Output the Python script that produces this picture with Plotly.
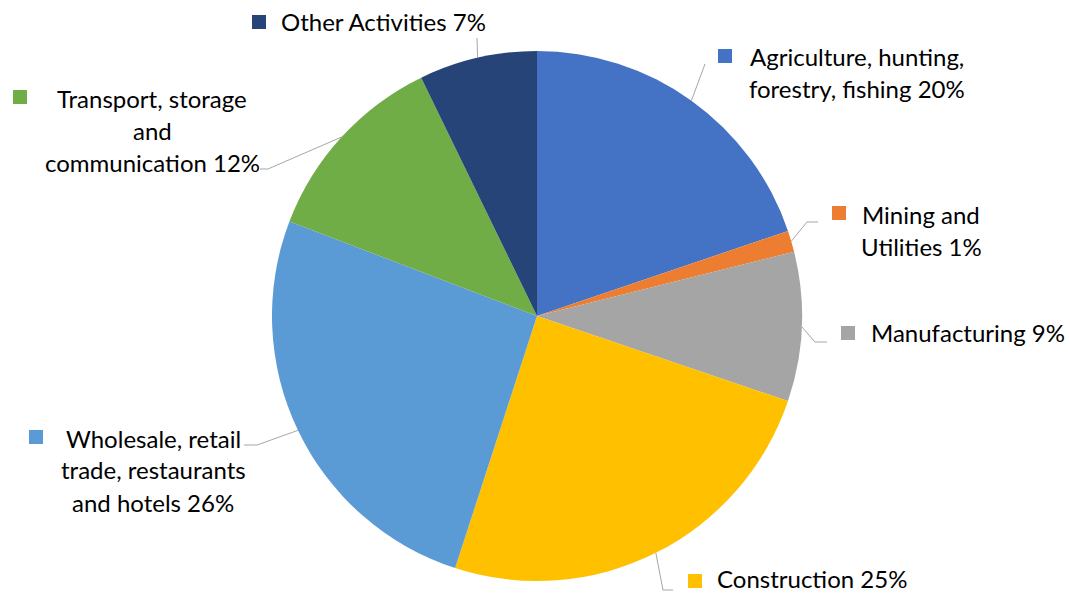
import math
import plotly.graph_objects as go

# ---- data ----
categories = [
    "Agriculture, hunting, forestry, fishing",
    "Mining and Utilities",
    "Manufacturing",
    "Construction",
    "Wholesale, retail trade, restaurants and hotels",
    "Transport, storage and communication",
    "Other Activities",
]
values = [19.8, 1.3, 9.1, 24.8, 25.8, 12.0, 7.2]
label_lines = [
    ["Agriculture, hunting,", "forestry, fishing"],
    ["Mining and", "Utilities"],
    ["Manufacturing"],
    ["Construction"],
    ["Wholesale, retail", "trade, restaurants", "and hotels"],
    ["Transport, storage", "and", "communication"],
    ["Other Activities"],
]
colors = ["#4472C4", "#ED7D31", "#A5A5A5", "#FFC000", "#5B9BD5", "#70AD47", "#264478"]

# ---- layout constants (pixels) ----
W, H = 1070, 594
CX, CY, R = 537, 316, 265
FONT = "Lato"
FS = 24
LINE_H = 32

# per-label layout: text center x, first line center y, square left x, square center y,
# elbow point, end of horizontal leader
label_layout = [
    dict(tx=857, ty=56, sx=718, sy=56, elbow=(705, 64), end=(705, 64)),
    dict(tx=921, ty=214, sx=832, sy=213, elbow=(807, 222), end=(818, 222)),
    dict(tx=968, ty=333, sx=841, sy=333, elbow=(815, 342), end=(827, 342)),
    dict(tx=812, ty=578, sx=688, sy=581, elbow=(663, 590), end=(673, 590)),
    dict(tx=153, ty=438, sx=29, sy=437, elbow=(257, 445), end=(244, 445)),
    dict(tx=152, ty=98, sx=13, sy=97, elbow=(268, 169), end=(260, 169)),
    dict(tx=383, ty=22, sx=252, sy=22, elbow=(477, 38), end=(477, 38)),
]


def px(x):
    return x / W


def py(y):
    return 1 - y / H


fig = go.Figure(
    go.Pie(
        values=values,
        labels=categories,
        marker=dict(colors=colors, line=dict(width=0)),
        sort=False,
        direction="clockwise",
        rotation=0,
        textinfo="none",
        hoverinfo="label+percent",
        showlegend=False,
        domain=dict(x=[px(CX - R), px(CX + R)], y=[py(CY + R), py(CY - R)]),
    )
)

total = sum(values)
cum = 0.0
annotations = []
shapes = []
for i, v in enumerate(values):
    mid = (cum + v / 2) / total * 2 * math.pi
    cum += v
    ex = CX + R * math.sin(mid)
    ey = CY - R * math.cos(mid)
    L = label_layout[i]
    (bx, by), (hx, hy) = L["elbow"], L["end"]
    shapes.append(dict(
        type="path", xref="paper", yref="paper",
        path=f"M {px(ex)} {py(ey)} L {px(bx)} {py(by)} L {px(hx)} {py(hy)}",
        line=dict(color="#A6A6A6", width=1),
    ))
    # colored key square
    s = 14
    shapes.append(dict(
        type="rect", xref="paper", yref="paper",
        x0=px(L["sx"]), x1=px(L["sx"] + s),
        y0=py(L["sy"] + s / 2), y1=py(L["sy"] - s / 2),
        fillcolor=colors[i], line=dict(width=0),
    ))
    lines = list(label_lines[i])
    lines[-1] = f"{lines[-1]} {round(v / total * 100)}%"
    for j, t in enumerate(lines):
        annotations.append(dict(
            x=px(L["tx"]), y=py(L["ty"] + j * LINE_H), xref="paper", yref="paper",
            text=t, showarrow=False, xanchor="center", yanchor="middle",
            borderpad=0,
            font=dict(family=FONT, size=FS, color="#000000"),
        ))

fig.update_layout(
    width=W, height=H,
    margin=dict(l=0, r=0, t=0, b=0),
    paper_bgcolor="white", plot_bgcolor="white",
    shapes=shapes, annotations=annotations,
)

fig.write_html("out.html")
